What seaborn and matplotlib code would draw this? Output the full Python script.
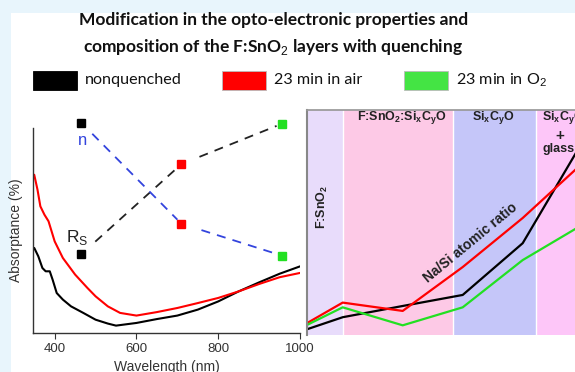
import matplotlib
matplotlib.use("Agg")
import matplotlib.pyplot as plt
import seaborn as sns
import pandas as pd
from matplotlib.patches import Rectangle

# ---------------- data ----------------
wl_black = [350, 360, 370, 378, 388, 395, 405, 420, 440, 470, 500, 530, 550, 600,
            650, 700, 750, 800, 850, 900, 950, 1000]
abs_black = [41.5, 37.4, 31.7, 30.1, 30.1, 26.0, 19.5, 16.3, 13.0, 9.8, 6.5, 4.6, 3.6,
             4.9, 6.8, 8.5, 11.4, 15.4, 20.3, 24.7, 28.9, 32.5]
wl_red = [350, 358, 365, 375, 385, 400, 420, 450, 480, 500, 530, 560, 600, 650, 700,
          750, 800, 850, 900, 950, 1000]
abs_red = [77.2, 69.9, 61.8, 57.7, 54.5, 44.7, 36.6, 28.5, 22.0, 17.9, 13.0, 9.8, 8.5,
           10.2, 12.2, 14.6, 17.1, 20.3, 23.9, 27.2, 29.3]

samples = ["nonquenched", "23 min in air", "23 min in O$_2$"]
sample_colors = ["#000000", "#ff0000", "#22e022"]
marker_wl = [465, 710, 955]
rs_values = [38.4, 82.4, 102.0]
n_values = [102.6, 53.3, 37.8]

depth_pos = [0, 0.6, 1.6, 2.6, 3.6, 4.5]
nasi_black = [2.5, 7.9, 12.9, 17.8, 40.8, 81.5]
nasi_red = [5.2, 14.4, 10.7, 30.2, 52.0, 74.0]
nasi_green = [4.4, 12.3, 4.3, 12.3, 33.3, 47.5]

band_edges = [0, 0.6, 2.43, 3.82, 5.0]
band_colors = ["#e8dcfb", "#fdc9e6", "#c5c6f9", "#fdc6f8"]

# ---------------- style ----------------
sns.set_theme(style="white")
plt.rcParams["font.family"] = ["Liberation Sans", "DejaVu Sans"]
plt.rcParams["mathtext.fontset"] = "custom"
plt.rcParams["mathtext.rm"] = "Liberation Sans"
plt.rcParams["mathtext.bf"] = "Liberation Sans:bold"

W, H = 575, 372
fig = plt.figure(figsize=(W / 100, H / 100), dpi=100)
fig.patch.set_facecolor("#e8f5fc")


def fx(px):
    return px / W


def fy(py):
    return 1 - py / H


# white panel
fig.patches.append(Rectangle((fx(11), 0), 1 - fx(11), fy(13), transform=fig.transFigure,
                             facecolor="white", edgecolor="none", zorder=-5))

# title
title_kw = dict(family=["Lato", "DejaVu Sans"], weight="bold", fontsize=12.5, ha="center",
                va="center", color="#111111")
fig.text(fx(274), fy(20), "Modification in the opto-electronic properties and", **title_kw)
fig.text(fx(273), fy(47), "composition of the F:SnO$_2$ layers with quenching", **title_kw)

# legend
leg_x = [33, 222, 404]
leg_fill = ["#000000", "#ff0000", "#44e444"]
for x0, lab, col in zip(leg_x, samples, leg_fill):
    fig.patches.append(Rectangle((fx(x0), fy(90)), fx(44), fy(71) - fy(90),
                                 transform=fig.transFigure, facecolor=col,
                                 edgecolor="#bbbbbb" if col != "#000000" else "#000000",
                                 lw=0.6, zorder=2))
    fig.text(fx(x0 + 52), fy(80), lab, family=["Lato", "DejaVu Sans"], fontsize=11.6,
             ha="left", va="center", color="#111111")

# ---------------- left panel ----------------
axL = fig.add_axes([fx(33), fy(333), fx(300) - fx(33), fy(128) - fy(333)])
axL.set_facecolor("none")
df_abs = pd.DataFrame({
    "Wavelength": wl_black + wl_red,
    "Absorptance": abs_black + abs_red,
    "sample": [samples[0]] * len(wl_black) + [samples[1]] * len(wl_red),
})
sns.lineplot(data=df_abs, x="Wavelength", y="Absorptance", hue="sample",
             palette=sample_colors[:2], lw=1.5, legend=False, ax=axL, sort=False)
axL.set_xlim(347, 1000)
axL.set_ylim(0, 100)
axL.set_xticks([400, 600, 800, 1000])
axL.set_yticks([])
axL.tick_params(axis="x", direction="out", length=4, width=0.8, colors="#333333",
                labelsize=9.5, pad=3, bottom=True)
for s in ["top", "right"]:
    axL.spines[s].set_visible(False)
for s in ["left", "bottom"]:
    axL.spines[s].set_color("#333333")
    axL.spines[s].set_linewidth(1.0)
axL.set_xlabel("Wavelength (nm)", fontsize=10, color="#333333", labelpad=4)
axL.set_ylabel("Absorptance (%)", fontsize=10, color="#333333")
axL.yaxis.set_label_coords(-0.037, 0.5)


def dashed_segments(ax, xs, ys, color, f0s, f1s):
    for i in range(len(xs) - 1):
        x0, x1, y0, y1 = xs[i], xs[i + 1], ys[i], ys[i + 1]
        a, b = f0s[i], f1s[i]
        ax.plot([x0 + a * (x1 - x0), x0 + b * (x1 - x0)],
                [y0 + a * (y1 - y0), y0 + b * (y1 - y0)],
                color=color, lw=1.3, ls=(0, (5, 4)), clip_on=False, zorder=3)


dashed_segments(axL, marker_wl, rs_values, "#222222", [0.14, 0.18], [0.95, 0.95])
dashed_segments(axL, marker_wl, n_values, "#3344dd", [0.11, 0.2], [0.96, 0.93])
for x, c, r, n in zip(marker_wl, sample_colors, rs_values, n_values):
    for v in (r, n):
        axL.plot([x], [v], marker="s", ms=6.3, color=c, mec=c, clip_on=False, zorder=4)
axL.text(469, 94, "n", color="#3344dd", fontsize=12, ha="center", va="center")
axL.text(455, 46.8, "R$_\\mathrm{S}$", color="#222222", fontsize=12.5, ha="center", va="center")

# ---------------- right panel ----------------
axR = fig.add_axes([fx(306.7), fy(335), fx(300), fy(110) - fy(335)])
axR.set_xlim(0, 5)
axR.set_ylim(0, 100)
for i, c in enumerate(band_colors):
    axR.axvspan(band_edges[i], band_edges[i + 1], color=c, lw=0, zorder=0)
for e in band_edges[1:-1]:
    axR.axvline(e, color="white", lw=1, zorder=0.5)
df_nasi = pd.DataFrame({
    "depth": depth_pos * 3,
    "ratio": nasi_black + nasi_red + nasi_green,
    "sample": [samples[0]] * 6 + [samples[1]] * 6 + [samples[2]] * 6,
})
sns.lineplot(data=df_nasi, x="depth", y="ratio", hue="sample", palette=sample_colors,
             lw=1.6, legend=False, ax=axR, sort=False)
axR.set_xticks([])
axR.set_yticks([])
axR.set_xlabel("")
axR.set_ylabel("")
axR.spines["right"].set_visible(False)
axR.spines["bottom"].set_visible(False)
axR.spines["top"].set_color("#999999")
axR.spines["left"].set_color("#888888")
axR.spines["left"].set_linewidth(1.5)

bkw = dict(fontsize=9, weight="bold", color="#222222", ha="center", va="center")
axR.text(0.27, 57, "F:SnO$_\\mathbf{2}$", rotation=90, **bkw)
axR.text(1.59, 96.5, "F:SnO$_\\mathbf{2}$:Si$_\\mathbf{x}$C$_\\mathbf{y}$O", **bkw)
axR.text(3.11, 96.5, "Si$_\\mathbf{x}$C$_\\mathbf{y}$O", **bkw)
axR.text(4.27, 96.5, "Si$_\\mathbf{x}$C$_\\mathbf{y}$O", **bkw)
axR.text(4.22, 88.5, "+", fontsize=11, weight="bold", color="#222222", ha="center", va="center")
axR.text(4.2, 82.5, "glass", **bkw)
axR.text(2.73, 41, "Na/Si atomic ratio", rotation=39.5, fontsize=10, weight="bold",
         color="#222222", ha="center", va="center", rotation_mode="anchor")

fig.savefig("out.png", dpi=100, facecolor=fig.get_facecolor())
